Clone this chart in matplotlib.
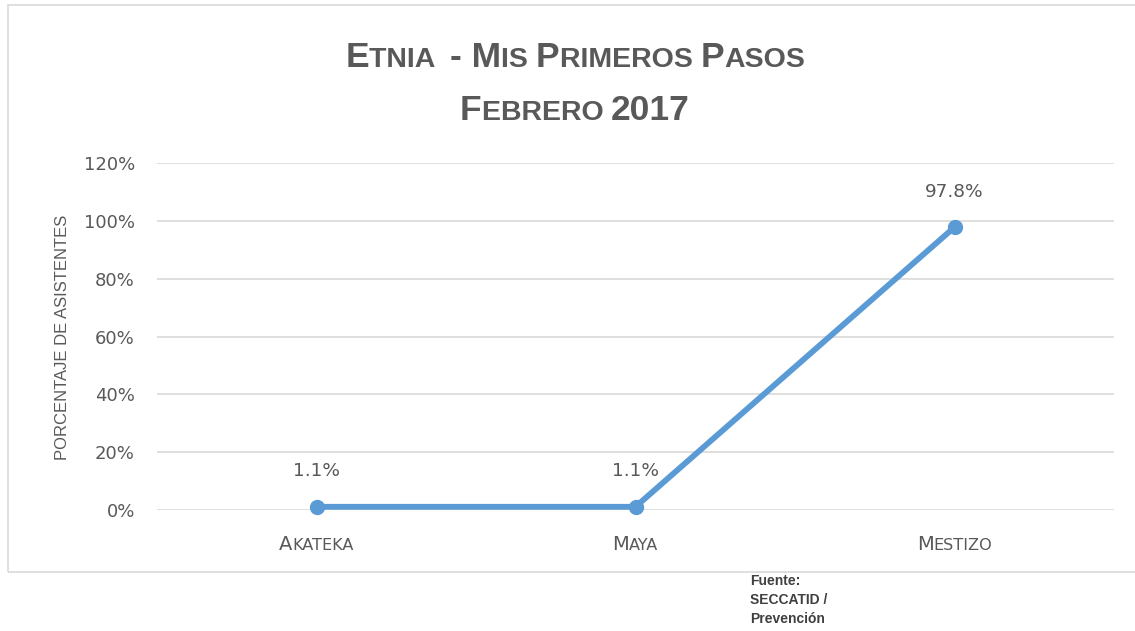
import matplotlib
matplotlib.use("Agg")
import matplotlib.pyplot as plt
from matplotlib.patches import Rectangle
from matplotlib.ticker import FuncFormatter

categories = ["Akateka", "Maya", "Mestizo"]
values = [1.1, 1.1, 97.8]
value_labels = ["1.1%", "1.1%", "97.8%"]
yticks = [0, 20, 40, 60, 80, 100, 120]

GREY = "#595959"
BLUE = "#5B9BD5"
FONT = "Liberation Sans"
NUMFONT = "DejaVu Sans"

W, H = 1135, 631
fig = plt.figure(figsize=(W / 100, H / 100), dpi=100)
ax = fig.add_axes([157 / W, 1 - 510 / H, (1114 - 157) / W, (510 - 163) / H])

x = list(range(len(categories)))
ax.plot(x, values, color=BLUE, lw=4.2, marker="o", ms=10, solid_capstyle="round", zorder=3, clip_on=False)
for xi, v, lab in zip(x, values, value_labels):
    ax.annotate(lab, (xi, v), xytext=(0, 19), textcoords="offset points", ha="center", va="bottom",
                fontsize=13.3, color=GREY, family=NUMFONT)

ax.set_xlim(-0.5, len(categories) - 0.5)
ax.set_ylim(0, 120)
ax.set_yticks(yticks)
ax.yaxis.set_major_formatter(FuncFormatter(lambda v, p: f"{int(v)}%"))
ax.grid(axis="y", color="#D9D9D9", lw=1.2)
ax.set_axisbelow(True)
for s in ax.spines.values():
    s.set_visible(False)
ax.tick_params(axis="y", length=0, pad=16, labelsize=13, labelcolor=GREY)
for t in ax.get_yticklabels():
    t.set_family(NUMFONT)
ax.set_xticks(x)
ax.set_xticklabels([])
ax.tick_params(axis="x", length=0)

renderer = fig.canvas.get_renderer()


def small_caps(text, cx, cy, big, small, weight="normal", rotation=0, family=FONT):
    """Draw text in small caps centred at figure pixel (cx, baseline cy)."""
    segs = []
    cur = ""
    cur_up = None
    for ch in text:
        up = ch.isupper() or ch.isdigit() or not ch.isalpha()
        if ch == " ":
            up = cur_up if cur_up is not None else True
        if cur_up is None or up == cur_up:
            cur += ch
            cur_up = up
        else:
            segs.append((cur, cur_up))
            cur, cur_up = ch, up
    if cur:
        segs.append((cur, cur_up))
    arts = []
    for s, up in segs:
        size = big if up else small
        t = fig.text(0, 0, s.upper(), fontsize=size, fontweight=weight, color=GREY, family=family,
                     ha="left", va="baseline", rotation=rotation, transform=None,
                     rotation_mode="anchor")
        arts.append(t)
    widths = []
    for t in arts:
        bb = t.get_window_extent(renderer)
        widths.append(bb.width if rotation == 0 else bb.height)
    total = sum(widths)
    pos = 0.0
    for t, w in zip(arts, widths):
        if rotation == 0:
            t.set_position((cx - total / 2 + pos, H - cy))
        else:
            t.set_position((cx, H - (cy + total / 2) + pos))
        pos += w
    return arts


# Title
small_caps("Etnia  - Mis Primeros Pasos", 575, 67, 25.5, 20.5, weight="bold")
small_caps("Febrero 2017", 575, 120, 25.5, 20.5, weight="bold")

# Category labels
for xi, c in zip(x, categories):
    px = ax.transData.transform((xi, 0))[0]
    small_caps(c, px, 550, 14, 11.6, family=NUMFONT)

# Y label (rotated)
small_caps("PORCENTAJE DE ASISTENTES", 67, 337, 12, 12, rotation=90)

# Chart border
fig.patches.append(Rectangle((8, H - 572), 1200, 567, transform=None, fill=False,
                             edgecolor="#D9D9D9", lw=1.2))

# Source note
fig.text(750 / W, 1 - 600 / H, "Fuente:\nSECCATID /\nPrevención", fontsize=10, color="#404040",
         family=FONT, ha="left", va="center", linespacing=1.45, fontweight="bold")

fig.savefig("out.png", dpi=100)
